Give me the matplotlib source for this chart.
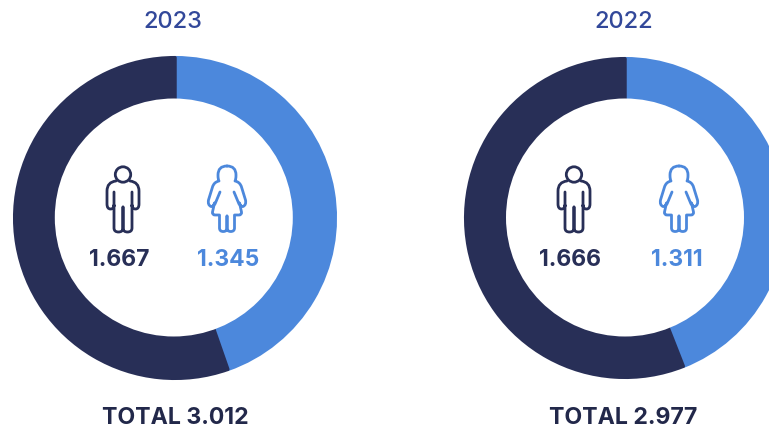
import matplotlib
matplotlib.use("Agg")
import matplotlib.pyplot as plt
from matplotlib.patches import Circle, PathPatch
from matplotlib.path import Path

plt.rcParams['font.family'] = ['Inter', 'DejaVu Sans']

years = ["2023", "2022"]
men = [1667, 1666]
women = [1345, 1311]

DARK = "#282f57"
BLUE = "#4c88dc"
TITLE = "#32489a"
H = 426

centers_x = [175, 625]
center_y = 218
radii = [160.3, 159.3]
hole_x = [173.8, 625]
man_x = [123, 574]
woman_x = [227, 679]
man_label_x = [119, 570]
woman_label_x = [228, 676.5]
title_x = [173, 624]
total_x = [175.5, 623.5]
icon_top = 166


def fmt(v):
    return f"{v:,}".replace(",", ".")


def half_man(s):
    # left half of the outline, s = +-1 mirrors it
    return [
        (Path.MOVETO, (-s * 7, 15)),
        (Path.CURVE3, (-s * 16, 16)), (Path.CURVE3, (-s * 16, 25)),
        (Path.LINETO, (-s * 16, 38)),
        (Path.CURVE3, (-s * 16, 43)), (Path.CURVE3, (-s * 12.5, 43)),
        (Path.CURVE3, (-s * 9, 43)), (Path.CURVE3, (-s * 9, 39)),
        (Path.LINETO, (-s * 9, 62)),
        (Path.CURVE3, (-s * 9, 66)), (Path.CURVE3, (-s * 4.5, 66)),
        (Path.CURVE3, (0, 66)), (Path.CURVE3, (0, 62)),
        (Path.LINETO, (0, 41)),
        (Path.MOVETO, (-s * 9, 26)), (Path.LINETO, (-s * 9, 40)),
    ]


def half_woman(s):
    return [
        (Path.MOVETO, (0, 0)),
        (Path.CURVE3, (-s * 9, 0)), (Path.CURVE3, (-s * 9, 9)),
        (Path.CURVE3, (-s * 9, 14)), (Path.CURVE3, (-s * 8, 15)),
        (Path.CURVE3, (-s * 13, 16)), (Path.CURVE3, (-s * 14.5, 21)),
        (Path.LINETO, (-s * 18.5, 34)),
        (Path.CURVE3, (-s * 19.5, 39)), (Path.CURVE3, (-s * 16, 40.5)),
        (Path.CURVE3, (-s * 13.5, 41)), (Path.CURVE3, (-s * 12.5, 37)),
        (Path.LINETO, (-s * 14.5, 46)),
        (Path.CURVE3, (-s * 15, 49)), (Path.CURVE3, (-s * 12, 49)),
        (Path.LINETO, (-s * 7.5, 49)),
        (Path.LINETO, (-s * 7.5, 62)),
        (Path.CURVE3, (-s * 7.5, 65.5)), (Path.CURVE3, (-s * 3.8, 65.5)),
        (Path.CURVE3, (0, 65.5)), (Path.CURVE3, (0, 62)),
        (Path.LINETO, (0, 50)),
        (Path.MOVETO, (-s * 7, 26)), (Path.LINETO, (-s * 12, 38)),
    ]


def draw_icon(ax, cx, halves, color):
    codes, verts = [], []
    for s in (1, -1):
        for code, (x, y) in halves(s):
            codes.append(code)
            verts.append((cx + x, H - (icon_top + y)))
    ax.add_patch(PathPatch(Path(verts, codes), fc="none", ec=color, lw=2,
                           capstyle="round", joinstyle="round", zorder=5))


fig = plt.figure(figsize=(7.69, 4.26), dpi=100)
ax = fig.add_axes([0, 0, 1, 1])

for i, year in enumerate(years):
    wedges, _ = ax.pie([women[i], men[i]], colors=[BLUE, DARK], startangle=90,
                       counterclock=False, center=(centers_x[i], H - center_y),
                       radius=radii[i],
                       wedgeprops=dict(width=radii[i] - 112, linewidth=2.5, joinstyle="round"))
    for w in wedges:
        w.set_edgecolor(w.get_facecolor())
    ax.add_patch(Circle((hole_x[i], H - 217.5), 119, fc="white", ec="none", zorder=4))

    ax.text(title_x[i], H - 22, year, color=TITLE, fontsize=17, fontweight="medium",
            ha="center", va="center")
    ax.text(total_x[i], H - 417.5, "TOTAL " + fmt(men[i] + women[i]), color="#22284a",
            fontsize=16.6, fontweight="bold", ha="center", va="center")

    draw_icon(ax, man_x[i], half_man, DARK)
    ax.add_patch(Circle((man_x[i], H - (icon_top + 8.5)), 7.7, fc="white", ec=DARK, lw=2, zorder=6))
    draw_icon(ax, woman_x[i], half_woman, BLUE)

    ax.text(man_label_x[i], H - 260, fmt(men[i]), color=DARK, fontsize=16.5, fontweight="bold",
            ha="center", va="center", zorder=6)
    ax.text(woman_label_x[i], H - 260, fmt(women[i]), color=BLUE, fontsize=16.5, fontweight="bold",
            ha="center", va="center", zorder=6)

ax.set_xlim(0, 769)
ax.set_ylim(0, H)
ax.set_aspect("equal")
ax.axis("off")

fig.savefig("out.png", dpi=100)
